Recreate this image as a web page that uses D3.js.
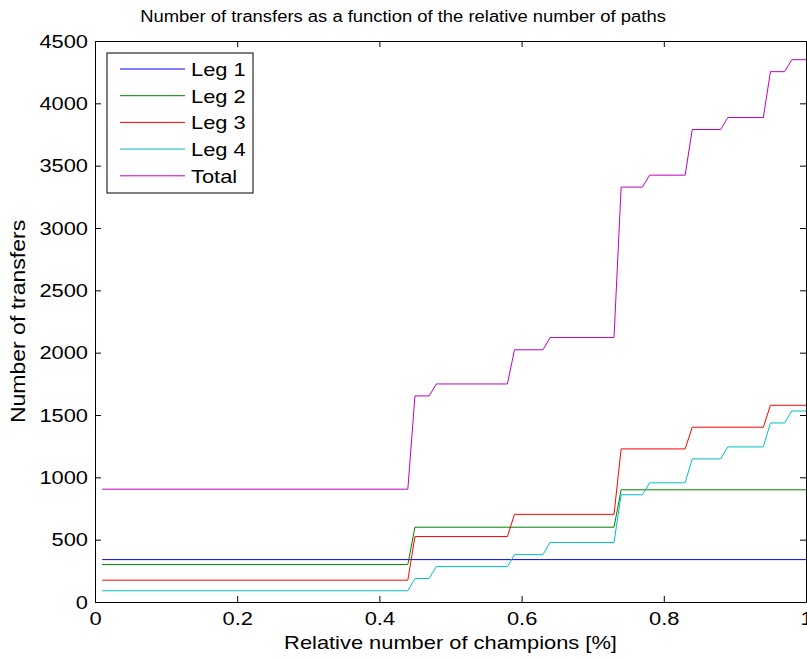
<!DOCTYPE html>
<html>
<head>
<meta charset="utf-8">
<script src="https://cdn.jsdelivr.net/npm/d3@7"></script>
<style>
  body { margin: 0; background: #fff; }
  svg { display: block; font-family: "Liberation Sans", Arial, sans-serif; }
</style>
</head>
<body>
<svg></svg>
<script>
// step breakpoints (x = relative number of champions)
const legNames = ["Leg 1", "Leg 2", "Leg 3", "Leg 4", "Total"];
const legColors = ["#0000ff", "#008000", "#ff0000", "#00bfbf", "#bf00bf"];

const leg1X = [0.01, 1.0];
const leg1Y = [340, 340];

const leg2X = [0.01, 0.44, 0.45, 0.73, 0.74, 1.0];
const leg2Y = [300, 300, 600, 600, 900, 900];

const leg3X = [0.01, 0.44, 0.45, 0.58, 0.59, 0.73, 0.74, 0.83, 0.84, 0.94, 0.95, 1.0];
const leg3Y = [175, 175, 525, 525, 703, 703, 1228, 1228, 1402, 1402, 1578, 1578];

const leg4X = [0.01, 0.44, 0.45, 0.47, 0.48, 0.58, 0.59, 0.63, 0.64, 0.73, 0.74, 0.77, 0.78, 0.83, 0.84, 0.88, 0.89, 0.94, 0.95, 0.97, 0.98, 1.0];
const leg4Y = [90, 90, 188, 188, 284, 284, 380, 380, 478, 478, 860, 860, 956, 956, 1148, 1148, 1244, 1244, 1436, 1436, 1532, 1532];

const totalX = [0.01, 0.44, 0.45, 0.47, 0.48, 0.58, 0.59, 0.63, 0.64, 0.73, 0.74, 0.77, 0.78, 0.83, 0.84, 0.88, 0.89, 0.94, 0.95, 0.97, 0.98, 1.0];
const totalY = [905, 905, 1653, 1653, 1749, 1749, 2023, 2023, 2121, 2121, 3328, 3328, 3424, 3424, 3790, 3790, 3886, 3886, 4254, 4254, 4350, 4350];

const xTicks = [0, 0.2, 0.4, 0.6, 0.8, 1];
const yTicks = [0, 500, 1000, 1500, 2000, 2500, 3000, 3500, 4000, 4500];

const seriesX = [leg1X, leg2X, leg3X, leg4X, totalX];
const seriesY = [leg1Y, leg2Y, leg3Y, leg4Y, totalY];

const width = 807, height = 659;
const margin = {top: 41, right: 1, bottom: 57, left: 95};
const svg = d3.select("svg").attr("width", width).attr("height", height);

const x = d3.scaleLinear().domain([0, 1]).range([margin.left, width - margin.right]);
const y = d3.scaleLinear().domain([0, 4500]).range([height - margin.bottom, margin.top]);

const line = d3.line().x(d => x(d[0])).y(d => y(d[1]));

svg.selectAll("path.series")
    .data(seriesX.map((xs, i) => xs.map((v, j) => [v, seriesY[i][j]])))
    .enter()
    .append("path")
    .attr("class", "series")
    .attr("d", line)
    .attr("fill", "none")
    .attr("stroke", (d, i) => legColors[i])
    .attr("stroke-width", 1);

// axes, MATLAB-style: ticks inward, box all round
svg.append("g")
    .attr("transform", `translate(0,${y(0)})`)
    .call(d3.axisBottom(x).tickValues(xTicks).tickFormat(d3.format("")).tickSizeInner(-6).tickSizeOuter(0).tickPadding(10));
svg.append("g")
    .attr("transform", `translate(${x(0)},0)`)
    .call(d3.axisLeft(y).tickValues(yTicks).tickFormat(d3.format("d")).tickSizeInner(-6).tickSizeOuter(0).tickPadding(7));
svg.append("g")
    .attr("transform", `translate(0,${y(4500)})`)
    .call(d3.axisTop(x).tickValues(xTicks).tickFormat("").tickSizeInner(-6).tickSizeOuter(0));
svg.append("g")
    .attr("transform", `translate(${x(1)},0)`)
    .call(d3.axisRight(y).tickValues(yTicks).tickFormat("").tickSizeInner(-6).tickSizeOuter(0));

svg.selectAll(".domain, .tick line").attr("stroke", "#000");
svg.selectAll(".tick text").attr("font-size", "19px").attr("fill", "#000").attr("font-family", null);

svg.append("text")
    .attr("x", 403).attr("y", 22)
    .attr("text-anchor", "middle")
    .attr("font-size", "16px")
    .text("Number of transfers as a function of the relative number of paths");

svg.append("text")
    .attr("x", (x(0) + x(1)) / 2).attr("y", 649)
    .attr("text-anchor", "middle")
    .attr("font-size", "19px")
    .text("Relative number of champions [%]");

svg.append("text")
    .attr("transform", `translate(25,${(y(0) + y(4500)) / 2}) rotate(-90)`)
    .attr("text-anchor", "middle")
    .attr("font-size", "20px")
    .text("Number of transfers");

// legend
const lg = svg.append("g").attr("transform", "translate(107,53)");
lg.append("rect")
    .attr("width", 146).attr("height", 140)
    .attr("fill", "#fff").attr("stroke", "#000");
const rows = lg.selectAll("g.row")
    .data(legNames)
    .enter()
    .append("g")
    .attr("transform", (d, i) => `translate(0,${16 + i * 26.7})`);
rows.append("line")
    .attr("x1", 13).attr("x2", 78)
    .attr("stroke", (d, i) => legColors[i]);
rows.append("text")
    .attr("x", 84).attr("y", 7)
    .attr("font-size", "19px")
    .text(d => d);

// the reference's Helvetica renders a bit wider than Liberation Sans
svg.selectAll("text").each(function () {
    const w = this.getComputedTextLength();
    d3.select(this).attr("textLength", w * 1.15).attr("lengthAdjust", "spacingAndGlyphs");
});
</script>
</body>
</html>
